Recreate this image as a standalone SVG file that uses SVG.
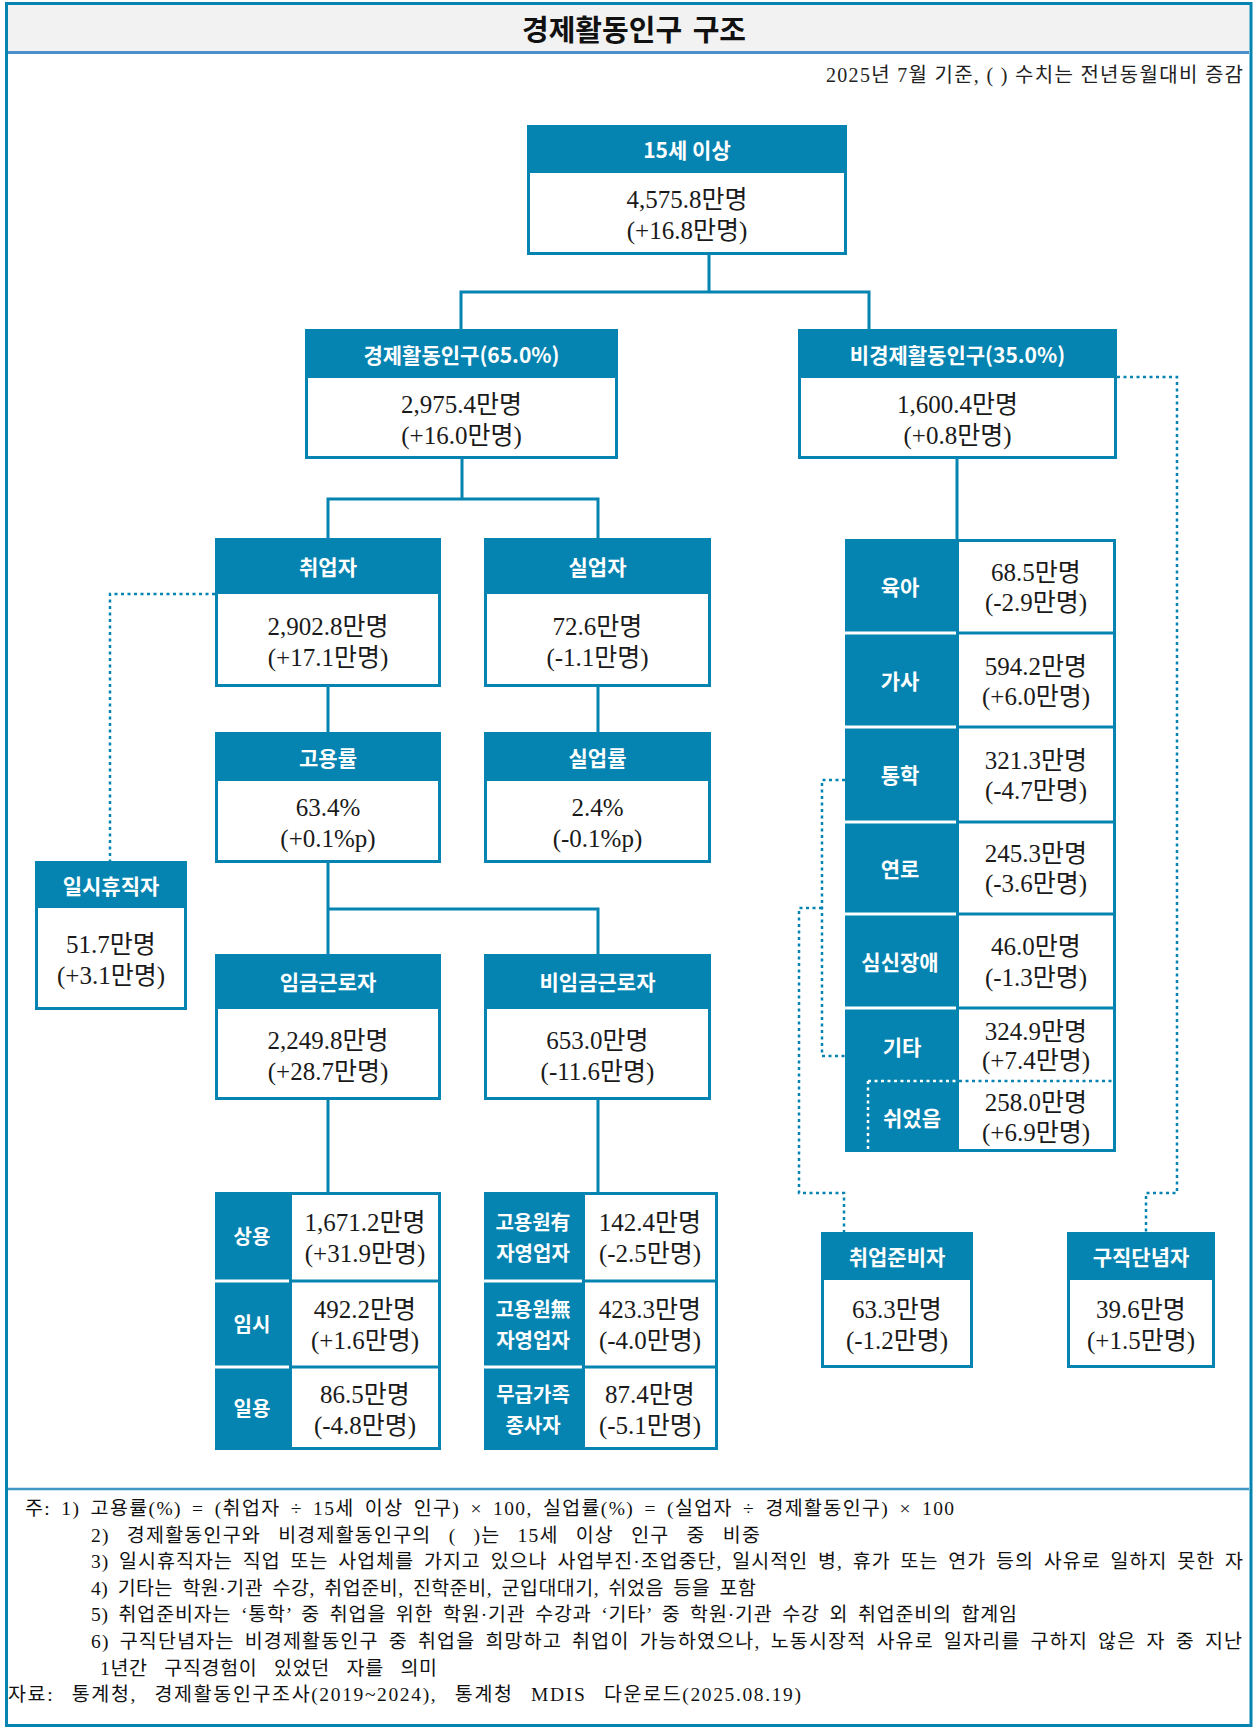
<svg xmlns="http://www.w3.org/2000/svg" width="1253" height="1728" viewBox="0 0 1253 1728">
<style>
.hd{fill:#0584b1}
.bx{fill:#fff;stroke:#0584b1;stroke-width:3}
.lb{fill:#0584b1}
.cell{fill:#fff}
.sep{fill:#fff}
.ht{font-family:"Noto Sans CJK KR","Noto Sans",sans-serif;font-weight:700;font-size:21px;fill:#fff;text-anchor:middle}
.ht2{font-family:"Noto Sans CJK KR","Noto Sans",sans-serif;font-weight:700;font-size:20px;fill:#fff;text-anchor:middle}
.vt{font-family:"Liberation Serif","Noto Sans CJK KR",serif;font-size:25px;fill:#1a1a1a;text-anchor:middle}
.ln{stroke:#0584b1;stroke-width:3;fill:none}
.dt{stroke:#0584b1;stroke-width:2.5;fill:none;stroke-dasharray:3 3.5}
.dtw{stroke:#fff;stroke-width:2.5;fill:none;stroke-dasharray:3 3.5}
.nt{font-family:"Liberation Serif","Noto Sans CJK KR",serif;font-size:19.5px;fill:#111;word-spacing:4px}
.wide{word-spacing:11px}
</style>

<g id="frame">
<rect x="8" y="5" width="1241" height="46" fill="#f2f2f2"/>
<line x1="8" y1="52.5" x2="1249" y2="52.5" stroke="#4a8fc9" stroke-width="3"/>
<rect x="6.5" y="3.5" width="1244.5" height="1722" fill="none" stroke="#0584b1" stroke-width="3"/>
<line x1="8" y1="1489" x2="1249" y2="1489" stroke="#3f97c6" stroke-width="2.5"/>
<text x="634" y="41" text-anchor="middle" font-family="'Noto Sans CJK KR','Noto Sans',sans-serif" font-weight="700" font-size="29" fill="#111" word-spacing="4">경제활동인구 구조</text>
<text x="826" y="82" font-family="'Liberation Serif','Noto Sans CJK KR',serif" font-size="20" fill="#222" textLength="417" lengthAdjust="spacing">2025년 7월 기준, ( ) 수치는 전년동월대비 증감</text>
</g>

<g id="connectors">
<path class="ln" d="M709,255V292M461,292H869M461,290.5V329M869,290.5V329"/>
<path class="ln" d="M462,459V499M328,499H598M328,497.5V538M598,497.5V538"/>
<path class="ln" d="M328,687V732M598,687V732"/>
<path class="ln" d="M328,863V954M326.5,909H599.5M598,907.5V954"/>
<path class="ln" d="M328,1100V1192M598,1100V1192"/>
<path class="ln" d="M957,459V539"/>
<path class="dt" d="M215,594H110V861"/>
<path class="dt" d="M845,780H822V1056H845"/>
<path class="dt" d="M822,908H799V1193H844V1232"/>
<path class="dt" d="M1117,377H1177V1193H1146V1232"/>
</g>

<g id="n-15plus">
<rect class="bx" x="528.5" y="126.5" width="317" height="127"/>
<rect class="hd" x="527" y="125" width="320" height="48"/>
<text class="ht" x="687" y="158" font-size="22">15세 이상</text>
<text class="vt" x="687" y="208">4,575.8만명</text>
<text class="vt" x="687" y="239">(+16.8만명)</text>
</g>

<g id="n-eap">
<rect class="bx" x="306.5" y="330.5" width="310" height="127"/>
<rect class="hd" x="305" y="329" width="313" height="49"/>
<text class="ht" x="461.5" y="363">경제활동인구(65.0%)</text>
<text class="vt" x="461.5" y="412.5">2,975.4만명</text>
<text class="vt" x="461.5" y="443.5">(+16.0만명)</text>
</g>

<g id="n-neap">
<rect class="bx" x="799.5" y="330.5" width="316" height="127"/>
<rect class="hd" x="798" y="329" width="319" height="49"/>
<text class="ht" x="957.5" y="363">비경제활동인구(35.0%)</text>
<text class="vt" x="957.5" y="412.5">1,600.4만명</text>
<text class="vt" x="957.5" y="443.5">(+0.8만명)</text>
</g>

<g id="n-employed">
<rect class="bx" x="216.5" y="539.5" width="223" height="146"/>
<rect class="hd" x="215" y="538" width="226" height="56"/>
<text class="ht" x="328" y="575">취업자</text>
<text class="vt" x="328" y="634.5">2,902.8만명</text>
<text class="vt" x="328" y="665.5">(+17.1만명)</text>
</g>

<g id="n-unemployed">
<rect class="bx" x="485.5" y="539.5" width="224" height="146"/>
<rect class="hd" x="484" y="538" width="227" height="56"/>
<text class="ht" x="597.5" y="575">실업자</text>
<text class="vt" x="597.5" y="634.5">72.6만명</text>
<text class="vt" x="597.5" y="665.5">(-1.1만명)</text>
</g>

<g id="n-emprate">
<rect class="bx" x="216.5" y="733.5" width="223" height="128"/>
<rect class="hd" x="215" y="732" width="226" height="49"/>
<text class="ht" x="328" y="766">고용률</text>
<text class="vt" x="328" y="816">63.4%</text>
<text class="vt" x="328" y="847">(+0.1%p)</text>
</g>

<g id="n-unemprate">
<rect class="bx" x="485.5" y="733.5" width="224" height="128"/>
<rect class="hd" x="484" y="732" width="227" height="49"/>
<text class="ht" x="597.5" y="766">실업률</text>
<text class="vt" x="597.5" y="816">2.4%</text>
<text class="vt" x="597.5" y="847">(-0.1%p)</text>
</g>

<g id="n-wage">
<rect class="bx" x="216.5" y="955.5" width="223" height="143"/>
<rect class="hd" x="215" y="954" width="226" height="55"/>
<text class="ht" x="328" y="990">임금근로자</text>
<text class="vt" x="328" y="1048.5">2,249.8만명</text>
<text class="vt" x="328" y="1079.5">(+28.7만명)</text>
</g>

<g id="n-nonwage">
<rect class="bx" x="485.5" y="955.5" width="224" height="143"/>
<rect class="hd" x="484" y="954" width="227" height="55"/>
<text class="ht" x="597.5" y="990">비임금근로자</text>
<text class="vt" x="597.5" y="1048.5">653.0만명</text>
<text class="vt" x="597.5" y="1079.5">(-11.6만명)</text>
</g>

<g id="n-templeave">
<rect class="bx" x="36.5" y="862.5" width="149" height="146"/>
<rect class="hd" x="35" y="861" width="152" height="47"/>
<text class="ht" x="111" y="894">일시휴직자</text>
<text class="vt" x="111" y="953">51.7만명</text>
<text class="vt" x="111" y="984">(+3.1만명)</text>
</g>

<g id="n-jobprep">
<rect class="bx" x="822.5" y="1233.5" width="149" height="133"/>
<rect class="hd" x="821" y="1232" width="152" height="48"/>
<text class="ht" x="897" y="1265">취업준비자</text>
<text class="vt" x="897" y="1318">63.3만명</text>
<text class="vt" x="897" y="1349">(-1.2만명)</text>
</g>

<g id="n-discouraged">
<rect class="bx" x="1068.5" y="1233.5" width="145" height="133"/>
<rect class="hd" x="1067" y="1232" width="148" height="48"/>
<text class="ht" x="1141" y="1265">구직단념자</text>
<text class="vt" x="1141" y="1318">39.6만명</text>
<text class="vt" x="1141" y="1349">(+1.5만명)</text>
</g>

<g id="n-inactive-list">
<rect class="lb" x="845" y="539" width="271" height="613"/>
<rect class="cell" x="959" y="542" width="154" height="89.5"/>
<rect class="cell" x="959" y="634.5" width="154" height="91"/>
<rect class="cell" x="959" y="728.5" width="154" height="92"/>
<rect class="cell" x="959" y="823.5" width="154" height="89"/>
<rect class="cell" x="959" y="915.5" width="154" height="91"/>
<rect class="cell" x="959" y="1009.5" width="154" height="139.5"/>
<rect class="sep" x="845" y="631.5" width="111" height="3"/>
<rect class="sep" x="845" y="725.5" width="111" height="3"/>
<rect class="sep" x="845" y="820.5" width="111" height="3"/>
<rect class="sep" x="845" y="912.5" width="111" height="3"/>
<rect class="sep" x="845" y="1006.5" width="111" height="3"/>
<path class="dtw" d="M868,1081H957M868,1081V1152"/>
<path class="dt" d="M959,1081H1113"/>
<text class="ht" x="900" y="595">육아</text>
<text class="ht" x="900" y="689">가사</text>
<text class="ht" x="900" y="783">통학</text>
<text class="ht" x="900" y="877">연로</text>
<text class="ht" x="900" y="970">심신장애</text>
<text class="ht" x="902" y="1055">기타</text>
<text class="ht" x="912" y="1126">쉬었음</text>
<text class="vt" x="1036" y="581">68.5만명</text>
<text class="vt" x="1036" y="611">(-2.9만명)</text>
<text class="vt" x="1036" y="675">594.2만명</text>
<text class="vt" x="1036" y="705">(+6.0만명)</text>
<text class="vt" x="1036" y="769">321.3만명</text>
<text class="vt" x="1036" y="799">(-4.7만명)</text>
<text class="vt" x="1036" y="862">245.3만명</text>
<text class="vt" x="1036" y="892">(-3.6만명)</text>
<text class="vt" x="1036" y="955">46.0만명</text>
<text class="vt" x="1036" y="986">(-1.3만명)</text>
<text class="vt" x="1036" y="1040">324.9만명</text>
<text class="vt" x="1036" y="1069">(+7.4만명)</text>
<text class="vt" x="1036" y="1111">258.0만명</text>
<text class="vt" x="1036" y="1141">(+6.9만명)</text>
</g>

<g id="n-wage-list">
<rect class="lb" x="215" y="1192" width="226" height="258"/>
<rect class="cell" x="292" y="1195" width="146" height="84.5"/>
<rect class="cell" x="292" y="1282.5" width="146" height="83"/>
<rect class="cell" x="292" y="1368.5" width="146" height="78.5"/>
<rect class="sep" x="215" y="1279.5" width="74" height="3"/>
<rect class="sep" x="215" y="1365.5" width="74" height="3"/>
<text class="ht2" x="252" y="1244">상용</text>
<text class="ht2" x="252" y="1332">임시</text>
<text class="ht2" x="252" y="1416">일용</text>
<text class="vt" x="365" y="1230.5">1,671.2만명</text>
<text class="vt" x="365" y="1261.5">(+31.9만명)</text>
<text class="vt" x="365" y="1318">492.2만명</text>
<text class="vt" x="365" y="1349">(+1.6만명)</text>
<text class="vt" x="365" y="1402.5">86.5만명</text>
<text class="vt" x="365" y="1433.5">(-4.8만명)</text>
</g>

<g id="n-nonwage-list">
<rect class="lb" x="484" y="1192" width="234" height="258"/>
<rect class="cell" x="585" y="1195" width="130" height="84.5"/>
<rect class="cell" x="585" y="1282.5" width="130" height="83"/>
<rect class="cell" x="585" y="1368.5" width="130" height="78.5"/>
<rect class="sep" x="484" y="1279.5" width="98" height="3"/>
<rect class="sep" x="484" y="1365.5" width="98" height="3"/>
<text class="ht2" x="533" y="1230">고용원有</text>
<text class="ht2" x="533" y="1261">자영업자</text>
<text class="ht2" x="533" y="1317">고용원無</text>
<text class="ht2" x="533" y="1348">자영업자</text>
<text class="ht2" x="533" y="1402">무급가족</text>
<text class="ht2" x="533" y="1433">종사자</text>
<text class="vt" x="650" y="1230.5">142.4만명</text>
<text class="vt" x="650" y="1261.5">(-2.5만명)</text>
<text class="vt" x="650" y="1318">423.3만명</text>
<text class="vt" x="650" y="1349">(-4.0만명)</text>
<text class="vt" x="650" y="1402.5">87.4만명</text>
<text class="vt" x="650" y="1433.5">(-5.1만명)</text>
</g>

<g id="notes">
<text class="nt" x="25" y="1515" textLength="929" lengthAdjust="spacing">주: 1) 고용률(%) = (취업자 ÷ 15세 이상 인구) × 100, 실업률(%) = (실업자 ÷ 경제활동인구) × 100</text>
<text class="nt wide" x="91" y="1541.5" textLength="669" lengthAdjust="spacing">2) 경제활동인구와 비경제활동인구의 ( )는 15세 이상 인구 중 비중</text>
<text class="nt" x="91" y="1568" textLength="1152" lengthAdjust="spacing">3) 일시휴직자는 직업 또는 사업체를 가지고 있으나 사업부진·조업중단, 일시적인 병, 휴가 또는 연가 등의 사유로 일하지 못한 자</text>
<text class="nt" x="91" y="1595" textLength="665" lengthAdjust="spacing">4) 기타는 학원·기관 수강, 취업준비, 진학준비, 군입대대기, 쉬었음 등을 포함</text>
<text class="nt" x="91" y="1621" textLength="926" lengthAdjust="spacing">5) 취업준비자는 ‘통학’ 중 취업을 위한 학원·기관 수강과 ‘기타’ 중 학원·기관 수강 외 취업준비의 합계임</text>
<text class="nt" x="91" y="1648" textLength="1151" lengthAdjust="spacing">6) 구직단념자는 비경제활동인구 중 취업을 희망하고 취업이 가능하였으나, 노동시장적 사유로 일자리를 구하지 않은 자 중 지난</text>
<text class="nt wide" x="100" y="1675" textLength="337" lengthAdjust="spacing">1년간 구직경험이 있었던 자를 의미</text>
<text class="nt wide" x="8" y="1701" textLength="793" lengthAdjust="spacing">자료: 통계청, 경제활동인구조사(2019~2024), 통계청 MDIS 다운로드(2025.08.19)</text>
</g>
</svg>
